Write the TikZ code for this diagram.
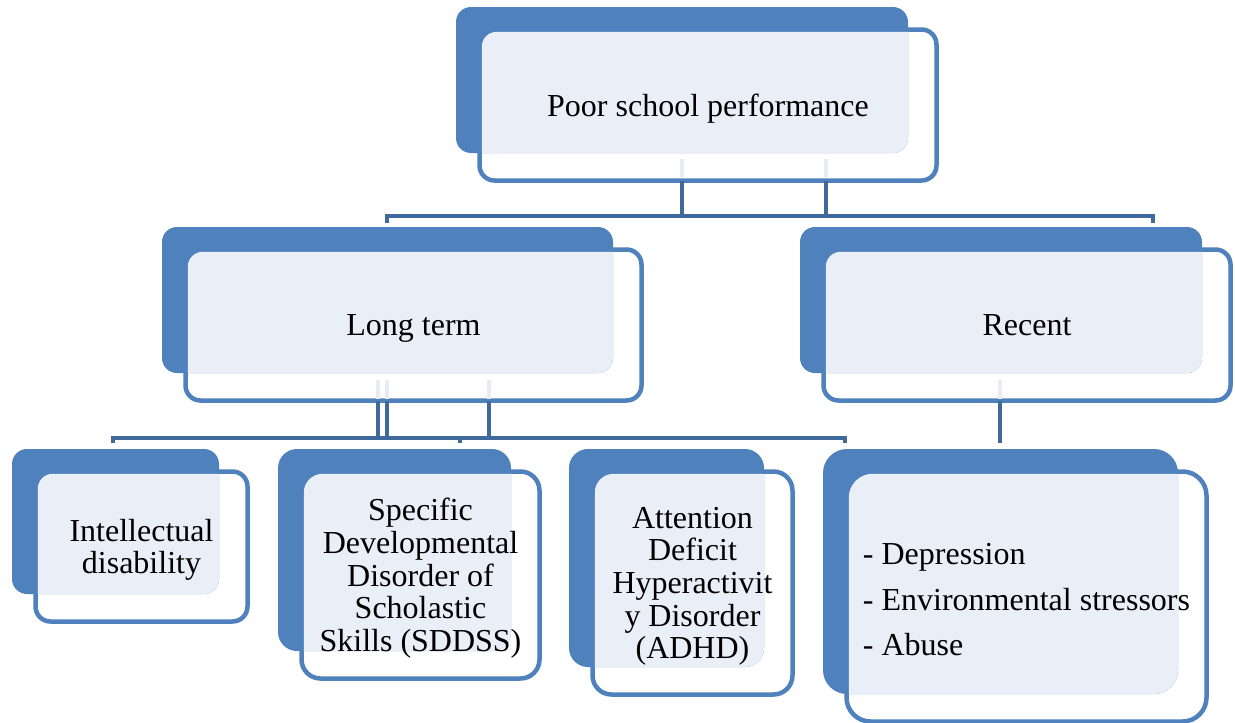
\documentclass[tikz,border=0pt]{standalone}
\usepackage{fontspec}
\setmainfont{Liberation Serif}
\usetikzlibrary{calc}
\definecolor{boxblue}{RGB}{79,129,189}
\definecolor{connblue}{RGB}{65,106,156}
\definecolor{lightfill}{RGB}{234,239,247}
\definecolor{stubcol}{RGB}{231,235,243}
\tikzset{
  frontbox/.style={draw=boxblue, fill=white, line width=3.375pt, inner sep=0pt, outer sep=0pt},
  backbox/.style={fill=boxblue, inner sep=0pt, outer sep=0pt},
  txt/.style={font=\fontsize{24}{24.5}\selectfont, align=center, inner sep=0pt, text=black, yshift=-2.5pt},
  conn/.style={draw=connblue, line width=3.375pt},
  stubline/.style={draw=stubcol, line width=3.375pt},
}
% #1 name, #2 bx1, #3 by1, #4 bx2, #5 by2, #6 radius(px), #7 text options, #8 text
\newcommand\smartbox[8]{%
  \pgfmathsetmacro\sbbw{(#4-#2)*0.75}%
  \pgfmathsetmacro\sbbh{(#5-#3)*0.75}%
  \pgfmathsetmacro\sbfw{(#4-#2+5)*0.75}%
  \pgfmathsetmacro\sbfh{(#5-#3+5)*0.75}%
  \pgfmathsetmacro\sbrr{#6*0.75}%
  \node[frontbox, minimum width=\sbfw pt, minimum height=\sbfh pt, rounded corners=\sbrr pt]
    (#1) at ({(#2+#4)/2+26},{(#3+#5)/2+25}) {};
  \node[backbox, minimum width=\sbbw pt, minimum height=\sbbh pt, rounded corners=\sbrr pt]
    (#1b) at ({(#2+#4)/2},{(#3+#5)/2}) {};
  \begin{scope}
    \clip[rounded corners=\sbrr pt] (#1b.north west) rectangle (#1b.south east);
    \fill[lightfill, rounded corners=\sbrr pt] ([shift={(2.25,2.25)}]#1.north west) rectangle ([shift={(-2.25,-2.25)}]#1.south east);
  \end{scope}
  \node[txt, #7] (#1t) at (#1) {#8};
}
\begin{document}
\begin{tikzpicture}[x=0.75pt, y=-0.75pt]
\useasboundingbox (0,0) rectangle (1235,722);
\fill[white] (0,0) rectangle (1235,722);

% boxes
\smartbox{pf}{456}{7}{908}{153}{15}{}{Poor school performance}
\smartbox{lt}{162}{227}{613}{373}{15}{}{Long term}
\smartbox{rc}{800}{227}{1202}{373}{15}{yshift=2pt}{Recent}
\smartbox{id}{12}{449}{219}{594}{15}{}{Intellectual\\disability}
\smartbox{sd}{278}{449}{511}{651}{19}{}{Specific\\Developmental\\Disorder of\\Scholastic\\Skills (SDDSS)}
\smartbox{ad}{569}{449}{764}{667}{19}{}{Attention\\Deficit\\Hyperactivit\\y Disorder\\(ADHD)}
\smartbox{rb}{823}{449}{1178}{694}{24}{font=\fontsize{24}{34.1}\selectfont, align=left}{- Depression\\- Environmental stressors\\- Abuse}

% junction coordinates
\coordinate (j1) at (682,216);
\coordinate (j2) at (826,216);
\coordinate (b1l) at (387,216);
\coordinate (b1r) at (1153,216);
\coordinate (k1) at (378,438);
\coordinate (k2) at (387,438);
\coordinate (k3) at (489,438);
\coordinate (b2l) at (113,438);
\coordinate (b2m) at (460,438);
\coordinate (b2r) at (845,438);
\coordinate (r1) at (1000,443);

% level 1 connectors
\draw[conn] (pf.south -| j1) -- (j1);
\draw[conn] (pf.south -| j2) -- (j2);
\draw[conn] ([yshift=-6.5*0.75pt]b1l) -- (b1l) -- (b1r) -- ([yshift=-6.5*0.75pt]b1r);

% level 2 connectors (long term)
\draw[conn] (lt.south -| k1) -- (k1);
\draw[conn] (lt.south -| k2) -- (k2);
\draw[conn] (lt.south -| k3) -- (k3);
\draw[conn] ([yshift=-5*0.75pt]b2l) -- (b2l) -- (b2r) -- ([yshift=-5*0.75pt]b2r);
\draw[conn] (b2m) -- ([yshift=-5*0.75pt]b2m);

% recent connector
\draw[conn] (rc.south -| r1) -- (r1);

% faint stubs inside the front boxes
\draw[stubline] (682,159) -- (682,177);
\draw[stubline] (826,159) -- (826,177);
\draw[stubline] (378,380) -- (378,399);
\draw[stubline] (387,380) -- (387,399);
\draw[stubline] (489,380) -- (489,399);
\draw[stubline] (1000,380) -- (1000,399);
\end{tikzpicture}
\end{document}
